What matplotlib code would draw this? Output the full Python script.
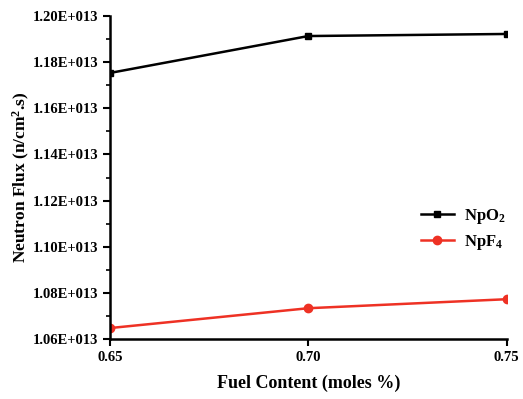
import matplotlib
matplotlib.use('Agg')
import matplotlib.pyplot as plt
from matplotlib.ticker import FuncFormatter, MultipleLocator

plt.rcParams['font.family'] = 'Liberation Serif'
plt.rcParams['font.weight'] = 'bold'
plt.rcParams['mathtext.fontset'] = 'custom'
plt.rcParams['mathtext.rm'] = 'Liberation Serif:bold'
plt.rcParams['mathtext.bf'] = 'Liberation Serif:bold'
plt.rcParams['mathtext.it'] = 'Liberation Serif:bold'

# Data
fuel_content = [0.65, 0.70, 0.75]
npo2_flux = [1.1753e13, 1.1913e13, 1.1922e13]
npf4_flux = [1.0648e13, 1.0734e13, 1.0773e13]

fig = plt.figure(figsize=(5.23, 3.99), dpi=100)
ax = fig.add_axes([0.210, 0.150, 0.759, 0.810])

ax.plot(fuel_content, npo2_flux, color='black', marker='s', markersize=5, linewidth=1.8, label=r'NpO$_\mathbf{2}$')
ax.plot(fuel_content, npf4_flux, color='#ee3124', marker='o', markersize=6, linewidth=1.8, label=r'NpF$_\mathbf{4}$')

ax.set_xlim(0.65, 0.75)
ax.set_ylim(1.06e13, 1.20e13)
ax.set_xticks(fuel_content)
ax.xaxis.set_major_formatter(FuncFormatter(lambda v, p: f'{v:.2f}'))
ax.yaxis.set_major_locator(MultipleLocator(0.02e13))
ax.yaxis.set_minor_locator(MultipleLocator(0.01e13))

def sci_fmt(v, p):
    m = v / 1e13
    return f'{m:.2f}E+013'
ax.yaxis.set_major_formatter(FuncFormatter(sci_fmt))

for s in ['top', 'right']:
    ax.spines[s].set_visible(False)
for s in ['left', 'bottom']:
    ax.spines[s].set_linewidth(1.8)
ax.tick_params(axis='both', which='major', direction='out', length=5, width=1.5, labelsize=10.5)
ax.tick_params(axis='y', which='minor', direction='out', length=3, width=1.2)

ax.set_xlabel('Fuel Content (moles %)', fontsize=13, fontweight='bold', labelpad=8)
ax.set_ylabel(r'Neutron Flux (n/cm$^\mathbf{2}$.s)', fontsize=12.5, fontweight='bold', labelpad=0)

ax.legend(loc='center right', bbox_to_anchor=(1.035, 0.34), frameon=False, fontsize=12,
          handlelength=2.0, handletextpad=0.6, labelspacing=0.45)

plt.savefig('out.png', dpi=100)
